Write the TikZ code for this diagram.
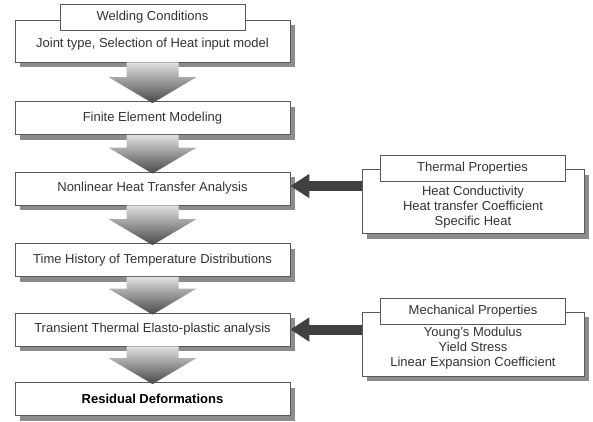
\documentclass[tikz,border=0pt]{standalone}
\usepackage{fontspec}
\setmainfont{Liberation Sans}
\usetikzlibrary{calc,shadows,arrows.meta}

\begin{document}
\begin{tikzpicture}[x=1pt,y=-1pt,font=\fontsize{13}{15}\selectfont,text=black!80,
  box/.style={draw=black!65,fill=white,line width=0.8pt,minimum width=275pt,minimum height=33pt,inner sep=0pt,
    general shadow={fill=black!45,shadow xshift=5pt,shadow yshift=-5pt}},
  tag/.style={draw=black!65,fill=white,line width=0.8pt,minimum width=185pt,minimum height=26pt,inner sep=0pt},
  prop/.style={box,minimum width=222pt,minimum height=64pt},
  flow/.style={top color=black!12,bottom color=black!72},
  feed/.style={draw=black!75,line width=10pt,-{Triangle[length=19pt,width=23pt]}}]
\useasboundingbox (0,0) rectangle (593,421);
% main column
\node[box,minimum height=42pt] (wc) at (152.5,41) {};
\node at (152.5,44) (jt) {Joint type, Selection of Heat input model};
\node[tag] (wct) at (152.5,17) {Welding Conditions};
\node[box] (fem) at (152.5,118) {Finite Element Modeling};
\node[box] (nht) at (152.5,188.5) {Nonlinear Heat Transfer Analysis};
\node[box] (thd) at (152.5,260) {Time History of Temperature Distributions};
\node[box] (tep) at (152.5,329.5) {Transient Thermal Elasto-plastic analysis};
\node[box,text=black] (rd) at (152.5,399) {\textbf{Residual Deformations}};
% block arrows between steps
\foreach \a/\b in {wc/fem,fem/nht,nht/thd,thd/tep,tep/rd}
  \path[flow] let \p1=(\a.south), \p2=(\b.north) in
    (\x1-26pt,\y1) -- (\x1+26pt,\y1) -- (\x1+26pt,\y2+24pt) -- (\x1+44pt,\y2+24pt)
    -- (\x1,\y2-2pt) -- (\x1-44pt,\y2+24pt) -- (\x1-26pt,\y2+24pt) -- cycle;
% material properties
\node[prop] (tp) at (473,201.5) {};
\node[align=center] (tpl) at (473,207) {Heat Conductivity\\Heat transfer Coefficient\\Specific Heat};
\node[tag] (tpt) at (472.5,168.5) {Thermal Properties};
\node[prop] (mp) at (473,344) {};
\node[align=center] (mpl) at (473,348.5) {Young's Modulus\\Yield Stress\\Linear Expansion Coefficient};
\node[tag] (mpt) at (473,311) {Mechanical Properties};
\draw[feed] (tp.west |- 0,186) -- (nht.east |- 0,186);
\draw[feed] (mp.west |- tep.east) -- (tep.east);
\end{tikzpicture}
\end{document}
